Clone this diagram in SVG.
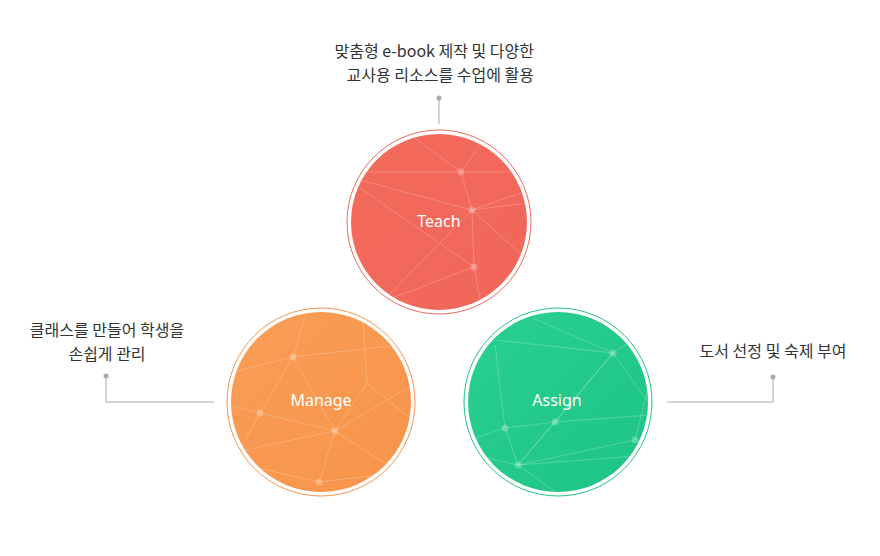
<svg xmlns="http://www.w3.org/2000/svg" width="880" height="556" viewBox="0 0 880 556">
<defs>
<style>
.lbl{font-family:"Noto Sans CJK KR","Noto Sans",sans-serif;font-size:16px;fill:#333}
.ttl{font-family:"Noto Sans","Noto Sans CJK KR",sans-serif;font-size:16px;fill:#fff;text-anchor:middle}
.net line{stroke:#fff;stroke-opacity:0.22;stroke-width:1}
.net circle{fill:#fff;fill-opacity:0.25}
.conn{fill:none;stroke:#aaa;stroke-width:1}
.dot{fill:#aaa}
</style>
<linearGradient id="gT" x1="0" y1="0" x2="1" y2="1"><stop offset="0" stop-color="#f46a5b"/><stop offset="1" stop-color="#f0675a"/></linearGradient>
<linearGradient id="gM" x1="0" y1="0" x2="1" y2="1"><stop offset="0" stop-color="#f99d56"/><stop offset="1" stop-color="#f8944a"/></linearGradient>
<linearGradient id="gA" x1="0" y1="0" x2="1" y2="1"><stop offset="0" stop-color="#2ad090"/><stop offset="1" stop-color="#1ec485"/></linearGradient>
<clipPath id="cT"><circle cx="439" cy="222" r="88"/></clipPath>
<clipPath id="cM"><circle cx="321" cy="402" r="90"/></clipPath>
<clipPath id="cA"><circle cx="558" cy="402" r="90"/></clipPath>
</defs>
<rect width="880" height="556" fill="#fff"/>

<g id="connectors">
<circle class="dot" cx="439" cy="98" r="2.5"/>
<path class="conn" d="M439 98V124"/>
<circle class="dot" cx="106" cy="376" r="2.5"/>
<path class="conn" d="M106 376V402H214"/>
<circle class="dot" cx="773" cy="377" r="2.5"/>
<path class="conn" d="M773 377V402H667"/>
</g>

<g id="teach">
<circle cx="439" cy="222" r="92" fill="none" stroke="#ef6a5b" stroke-width="1"/>
<circle cx="439" cy="222" r="88" fill="url(#gT)"/>
<g class="net" clip-path="url(#cT)">
<line x1="413" y1="137" x2="461" y2="172"/>
<line x1="461" y1="172" x2="480" y2="145"/>
<line x1="340" y1="172" x2="540" y2="172"/>
<line x1="461" y1="172" x2="472" y2="210"/>
<line x1="360" y1="180" x2="472" y2="210"/>
<line x1="472" y1="210" x2="535" y2="188"/>
<line x1="472" y1="210" x2="535" y2="202"/>
<line x1="472" y1="210" x2="525" y2="258"/>
<line x1="472" y1="210" x2="474" y2="267"/>
<line x1="360" y1="188" x2="474" y2="267"/>
<line x1="387" y1="300" x2="474" y2="267"/>
<line x1="388" y1="296" x2="472" y2="210"/>
<line x1="474" y1="267" x2="483" y2="315"/>
<circle cx="461" cy="172" r="3.5"/>
<circle cx="472" cy="210" r="3.5"/>
<circle cx="474" cy="267" r="3.5"/>
</g>
<text class="ttl" x="439" y="227">Teach</text>
</g>

<g id="manage">
<circle cx="321" cy="402" r="94" fill="none" stroke="#f7944c" stroke-width="1"/>
<circle cx="321" cy="402" r="90" fill="url(#gM)"/>
<g class="net" clip-path="url(#cM)">
<line x1="293" y1="357" x2="307" y2="310"/>
<line x1="293" y1="357" x2="390" y2="346"/>
<line x1="293" y1="357" x2="228" y2="373"/>
<line x1="293" y1="357" x2="260" y2="413"/>
<line x1="293" y1="357" x2="335" y2="431"/>
<line x1="260" y1="413" x2="335" y2="431"/>
<line x1="260" y1="413" x2="228" y2="405"/>
<line x1="260" y1="413" x2="240" y2="450"/>
<line x1="335" y1="431" x2="367" y2="383"/>
<line x1="367" y1="383" x2="363" y2="320"/>
<line x1="335" y1="431" x2="412" y2="385"/>
<line x1="335" y1="431" x2="319" y2="482"/>
<line x1="335" y1="431" x2="235" y2="452"/>
<line x1="335" y1="431" x2="395" y2="470"/>
<line x1="319" y1="482" x2="395" y2="473"/>
<line x1="319" y1="482" x2="245" y2="465"/>
<line x1="367" y1="383" x2="412" y2="420"/>
<circle cx="293" cy="357" r="3.5"/>
<circle cx="260" cy="413" r="3.5"/>
<circle cx="335" cy="431" r="3.5"/>
<circle cx="319" cy="482" r="3.5"/>
</g>
<text class="ttl" x="321" y="406">Manage</text>
</g>

<g id="assign">
<circle cx="558" cy="402" r="94" fill="none" stroke="#22c487" stroke-width="1"/>
<circle cx="558" cy="402" r="90" fill="url(#gA)"/>
<g class="net" clip-path="url(#cA)">
<line x1="613" y1="353" x2="533" y2="318"/>
<line x1="613" y1="353" x2="640" y2="335"/>
<line x1="613" y1="353" x2="555" y2="422"/>
<line x1="613" y1="353" x2="518" y2="465"/>
<line x1="613" y1="353" x2="650" y2="405"/>
<line x1="613" y1="353" x2="495" y2="340"/>
<line x1="495" y1="345" x2="505" y2="428"/>
<line x1="505" y1="428" x2="555" y2="422"/>
<line x1="555" y1="422" x2="650" y2="415"/>
<line x1="505" y1="428" x2="518" y2="465"/>
<line x1="505" y1="428" x2="470" y2="440"/>
<line x1="555" y1="422" x2="518" y2="465"/>
<line x1="518" y1="465" x2="635" y2="440"/>
<line x1="518" y1="465" x2="650" y2="455"/>
<line x1="518" y1="465" x2="560" y2="495"/>
<line x1="518" y1="465" x2="475" y2="455"/>
<line x1="635" y1="440" x2="650" y2="380"/>
<circle cx="613" cy="353" r="3.5"/>
<circle cx="555" cy="422" r="3.5"/>
<circle cx="505" cy="428" r="3.5"/>
<circle cx="518" cy="465" r="3.5"/>
<circle cx="635" cy="440" r="3.5"/>
</g>
<text class="ttl" x="557" y="406">Assign</text>
</g>

<g id="label-teach">
<text class="lbl" x="534" y="57" text-anchor="end">맞춤형 e-book 제작 및 다양한</text>
<text class="lbl" x="534" y="81" text-anchor="end">교사용 리소스를 수업에 활용</text>
</g>
<g id="label-manage">
<text class="lbl" x="107" y="336" text-anchor="middle">클래스를 만들어 학생을</text>
<text class="lbl" x="107" y="360" text-anchor="middle">손쉽게 관리</text>
</g>
<g id="label-assign">
<text class="lbl" x="773" y="357" text-anchor="middle">도서 선정 및 숙제 부여</text>
</g>
</svg>
